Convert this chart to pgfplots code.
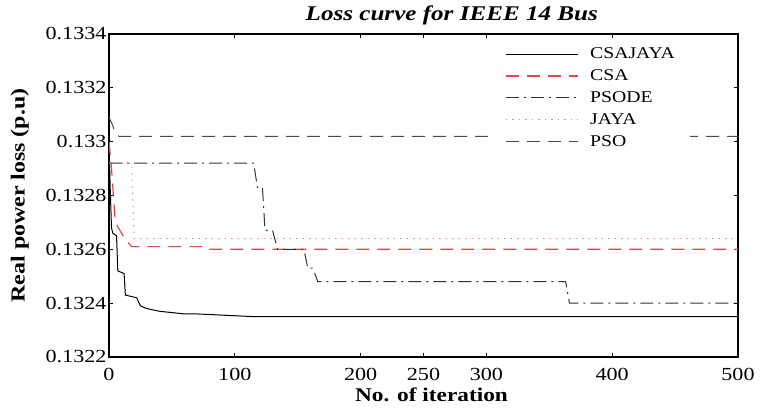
\documentclass[border=0pt]{standalone}
\usepackage{fontspec}
\setmainfont{Liberation Serif}[FakeStretch=1.2]
\usepackage{pgfplots}
\pgfplotsset{compat=1.18}
\definecolor{csared}{HTML}{E04848}
\definecolor{jayapink}{HTML}{D99090}
\definecolor{darkline}{HTML}{333333}
\definecolor{psogray}{HTML}{4A4A4A}

\begin{document}
\begin{tikzpicture}
\path[use as bounding box] (0,0) rectangle (766bp,408bp);
\begin{axis}[at={(109bp,51bp)},anchor=south west,scale only axis,
  width=629bp,height=323bp,
  xmin=0,xmax=500,ymin=0.1322,ymax=0.1334,
  xtick={0,100,200,250,300,400,500},
  ytick={0.1322,0.1324,0.1326,0.1328,0.133,0.1332,0.1334},
  yticklabels={0.1322,0.1324,0.1326,0.1328,0.133,0.1332,0.1334},
  scaled y ticks=false,
  tick align=inside,major tick length=4bp,
  axis line style={line width=1.2bp},
  tick style={line width=0.8bp,black},
  ticklabel style={font=\fontsize{18.5}{20}\selectfont},
  xticklabel style={yshift=-8bp},
  yticklabel style={xshift=1bp},
  /pgf/number format/assume math mode=true,
  title={\fontsize{21}{24}\selectfont\bfseries\itshape Loss curve for IEEE 14 Bus},
  title style={at={(0.545,1)},anchor=south,yshift=0bp},
  xlabel={\fontsize{19.5}{22}\selectfont\bfseries No. of iteration},
  xlabel style={yshift=0bp,xshift=8bp},
  ylabel={\fontsize{20}{22}\selectfont\bfseries Real power loss (p.u)},
  ylabel style={yshift=10bp},
  legend style={draw=none,fill=white,at={(rel axis cs:0.607,0.979)},anchor=north west,
    font=\fontsize{16.5}{18}\selectfont,row sep=7.5bp,column sep=11bp,
    inner xsep=14bp,inner ysep=6bp,
    nodes={inner xsep=1bp,inner ysep=1bp}},
  legend cell align=left,
  legend image code/.code={\draw[#1] (0bp,0bp) -- (72bp,0bp);},
]
\addplot[black,line width=1bp] coordinates {
 (0,0.13300) (1,0.13282) (2,0.13268) (3,0.13266) (6,0.13265) (7,0.13252) (12,0.13251)
 (13,0.13243) (22,0.13242) (25,0.13239) (30,0.13238) (40,0.13237) (60,0.13236)
 (70,0.13236) (115,0.13235) (500,0.13235)};
\addlegendentry{CSAJAYA}
\addplot[csared,line width=1.2bp,dash pattern=on 13bp off 8bp] coordinates {
 (0,0.13300) (2,0.13290) (5,0.13270) (10,0.13266) (14,0.13263) (18,0.13261)
 (75,0.13261) (78,0.13260) (500,0.13260)};
\addlegendentry{CSA}
\addplot[darkline,line width=1bp,dash pattern=on 13bp off 5bp on 2bp off 5bp] coordinates {
 (0,0.13292) (115,0.13292) (118,0.13283) (122,0.13283) (124,0.13267) (130,0.13267)
 (134,0.13260) (155,0.13260) (158,0.13253) (162,0.13253) (166,0.13248)
 (363,0.13248) (366,0.13240) (500,0.13240)};
\addlegendentry{PSODE}
\addplot[jayapink,line width=1bp,dash pattern=on 1.5bp off 5bp] coordinates {
 (0,0.13292) (18,0.13292) (20,0.13264) (500,0.13264)};
\addlegendentry{JAYA}
\addplot[psogray,line width=1bp,dash pattern=on 13bp off 8bp] coordinates {
 (0,0.13309) (3,0.13306) (5,0.13303) (8,0.13302) (500,0.13302)};
\addlegendentry{PSO}
\end{axis}
\end{tikzpicture}
\end{document}
